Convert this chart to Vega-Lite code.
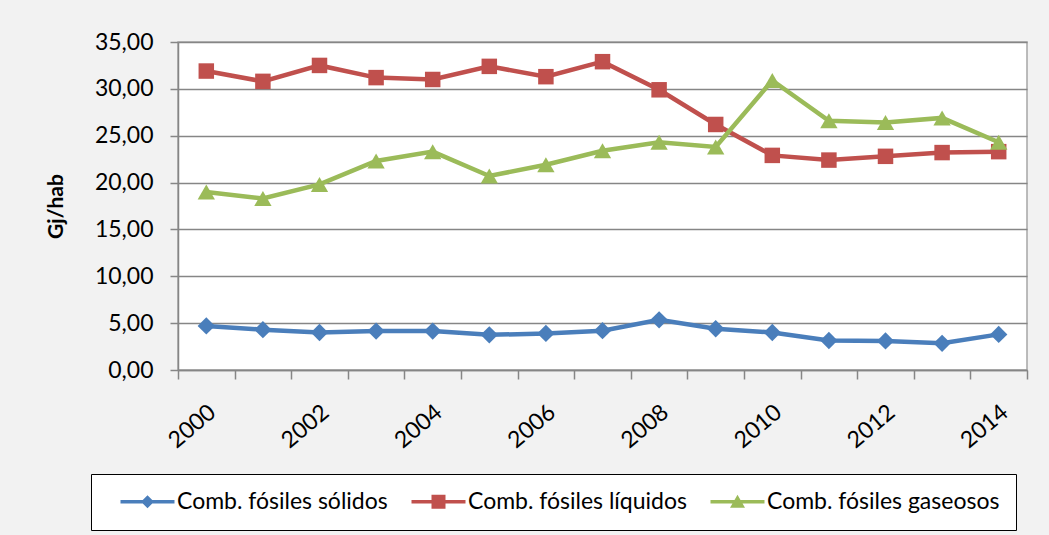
{
  "$schema": "https://vega.github.io/schema/vega-lite/v6.json",
  "width": 849,
  "height": 328,
  "autosize": {"type": "none"},
  "padding": {"left": 178, "top": 42, "right": 22, "bottom": 165},
  "background": "#f2f2f2",
  "data": {
    "values": [
      {"year": 2000, "serie": "Comb. fósiles sólidos", "v": 4.7},
      {"year": 2001, "serie": "Comb. fósiles sólidos", "v": 4.3},
      {"year": 2002, "serie": "Comb. fósiles sólidos", "v": 4.0},
      {"year": 2003, "serie": "Comb. fósiles sólidos", "v": 4.15},
      {"year": 2004, "serie": "Comb. fósiles sólidos", "v": 4.15},
      {"year": 2005, "serie": "Comb. fósiles sólidos", "v": 3.75},
      {"year": 2006, "serie": "Comb. fósiles sólidos", "v": 3.9},
      {"year": 2007, "serie": "Comb. fósiles sólidos", "v": 4.2},
      {"year": 2008, "serie": "Comb. fósiles sólidos", "v": 5.35},
      {"year": 2009, "serie": "Comb. fósiles sólidos", "v": 4.4},
      {"year": 2010, "serie": "Comb. fósiles sólidos", "v": 4.0},
      {"year": 2011, "serie": "Comb. fósiles sólidos", "v": 3.15},
      {"year": 2012, "serie": "Comb. fósiles sólidos", "v": 3.1},
      {"year": 2013, "serie": "Comb. fósiles sólidos", "v": 2.85},
      {"year": 2014, "serie": "Comb. fósiles sólidos", "v": 3.8},
      {"year": 2000, "serie": "Comb. fósiles líquidos", "v": 31.9},
      {"year": 2001, "serie": "Comb. fósiles líquidos", "v": 30.8},
      {"year": 2002, "serie": "Comb. fósiles líquidos", "v": 32.5},
      {"year": 2003, "serie": "Comb. fósiles líquidos", "v": 31.2},
      {"year": 2004, "serie": "Comb. fósiles líquidos", "v": 31.0},
      {"year": 2005, "serie": "Comb. fósiles líquidos", "v": 32.4},
      {"year": 2006, "serie": "Comb. fósiles líquidos", "v": 31.3},
      {"year": 2007, "serie": "Comb. fósiles líquidos", "v": 32.9},
      {"year": 2008, "serie": "Comb. fósiles líquidos", "v": 29.9},
      {"year": 2009, "serie": "Comb. fósiles líquidos", "v": 26.2},
      {"year": 2010, "serie": "Comb. fósiles líquidos", "v": 22.9},
      {"year": 2011, "serie": "Comb. fósiles líquidos", "v": 22.4},
      {"year": 2012, "serie": "Comb. fósiles líquidos", "v": 22.8},
      {"year": 2013, "serie": "Comb. fósiles líquidos", "v": 23.2},
      {"year": 2014, "serie": "Comb. fósiles líquidos", "v": 23.3},
      {"year": 2000, "serie": "Comb. fósiles gaseosos", "v": 19.0},
      {"year": 2001, "serie": "Comb. fósiles gaseosos", "v": 18.3},
      {"year": 2002, "serie": "Comb. fósiles gaseosos", "v": 19.8},
      {"year": 2003, "serie": "Comb. fósiles gaseosos", "v": 22.3},
      {"year": 2004, "serie": "Comb. fósiles gaseosos", "v": 23.3},
      {"year": 2005, "serie": "Comb. fósiles gaseosos", "v": 20.7},
      {"year": 2006, "serie": "Comb. fósiles gaseosos", "v": 21.9},
      {"year": 2007, "serie": "Comb. fósiles gaseosos", "v": 23.4},
      {"year": 2008, "serie": "Comb. fósiles gaseosos", "v": 24.3},
      {"year": 2009, "serie": "Comb. fósiles gaseosos", "v": 23.8},
      {"year": 2010, "serie": "Comb. fósiles gaseosos", "v": 30.9},
      {"year": 2011, "serie": "Comb. fósiles gaseosos", "v": 26.6},
      {"year": 2012, "serie": "Comb. fósiles gaseosos", "v": 26.4},
      {"year": 2013, "serie": "Comb. fósiles gaseosos", "v": 26.9},
      {"year": 2014, "serie": "Comb. fósiles gaseosos", "v": 24.3}
    ]
  },
  "encoding": {
    "x": {
      "field": "year",
      "type": "ordinal",
      "scale": {"type": "band", "paddingInner": 0, "paddingOuter": 0},
      "axis": {
        "title": null,
        "tickBand": "extent",
        "grid": false,
        "labelAngle": -40,
        "labelAlign": "right",
        "labelBaseline": "middle",
        "labelPadding": 30,
        "labelOffset": 6,
        "labelOverlap": false,
        "labelExpr": "datum.value % 2 === 0 ? datum.label : ''",
        "tickSize": 9
      }
    },
    "y": {
      "field": "v",
      "type": "quantitative",
      "scale": {"domain": [0, 35], "nice": false, "zero": true},
      "axis": {
        "title": "Gj/hab",
        "values": [0, 5, 10, 15, 20, 25, 30, 35],
        "format": ".2f",
        "tickSize": 8,
        "labelPadding": 17,
        "titleFontSize": 21,
        "titleFontWeight": "bold",
        "titlePadding": 28
      }
    },
    "color": {
      "field": "serie",
      "type": "nominal",
      "sort": ["Comb. fósiles sólidos", "Comb. fósiles líquidos", "Comb. fósiles gaseosos"],
      "scale": {
        "domain": ["Comb. fósiles sólidos", "Comb. fósiles líquidos", "Comb. fósiles gaseosos"],
        "range": ["#4a7ebb", "#c0504d", "#9bbb59"]
      },
      "legend": {
        "title": null,
        "orient": "none",
        "direction": "horizontal",
        "legendX": -87,
        "legendY": 432,
        "padding": 16,
        "fillColor": "#ffffff",
        "strokeColor": "#000000",
        "labelFontSize": 23,
        "labelColor": "#000000",
        "labelLimit": 0,
        "labelOffset": 47,
        "columnPadding": 10,
        "symbolSize": 400,
        "symbolStrokeWidth": 0,
        "symbolType": "M0.2,-0.18H5.6V0.18H0.2Z",
        "encode": {
          "symbols": {
            "update": {
              "shape": {"signal": "datum.value === 'Comb. fósiles sólidos' ? 'M0.2,-0.18H5.6V0.18H0.2Z M2.9,-0.65L3.55,0L2.9,0.65L2.25,0Z' : datum.value === 'Comb. fósiles líquidos' ? 'M0.2,-0.18H5.6V0.18H0.2Z M2.2,-0.7H3.6V0.7H2.2Z' : 'M0.2,-0.18H5.6V0.18H0.2Z M2.9,-0.7L3.65,0.6H2.15Z'"},
              "fill": {"signal": "datum.value === 'Comb. fósiles sólidos' ? '#4a7ebb' : datum.value === 'Comb. fósiles líquidos' ? '#c0504d' : '#9bbb59'"},
              "fillOpacity": {"value": 1},
              "strokeWidth": {"value": 0}
            }
          }
        }
      }
    }
  },
  "layer": [
    {
      "mark": {"type": "line", "strokeWidth": 4.5}
    },
    {
      "transform": [{"filter": "datum.serie === 'Comb. fósiles sólidos'"}],
      "mark": {"type": "point", "filled": true, "opacity": 1, "shape": "diamond", "size": 300}
    },
    {
      "transform": [{"filter": "datum.serie === 'Comb. fósiles líquidos'"}],
      "mark": {"type": "point", "filled": true, "opacity": 1, "shape": "square", "size": 240}
    },
    {
      "transform": [{"filter": "datum.serie === 'Comb. fósiles gaseosos'"}],
      "mark": {"type": "point", "filled": true, "opacity": 1, "shape": "triangle-up", "size": 300}
    }
  ],
  "config": {
    "font": "Lato",
    "locale": {"number": {"decimal": ",", "thousands": ".", "grouping": [3], "currency": ["", " €"]}},
    "view": {"stroke": "#a6a6a6", "strokeWidth": 1.5, "fill": "#ffffff"},
    "axis": {
      "labelFont": "Lato",
      "labelFontSize": 23,
      "labelColor": "#000000",
      "titleColor": "#000000",
      "titleFont": "Lato",
      "domainColor": "#868686",
      "domainWidth": 1.5,
      "tickColor": "#868686",
      "tickWidth": 1.5,
      "gridColor": "#868686",
      "gridWidth": 1.5
    },
    "legend": {"labelFont": "Lato"}
  }
}
